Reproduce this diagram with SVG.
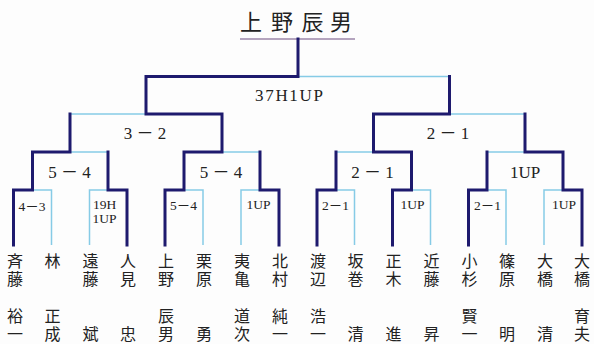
<svg xmlns="http://www.w3.org/2000/svg" width="594" height="344" viewBox="0 0 594 344">
<style>
.bg{fill:#fdfdfd}
.nv{fill:none;stroke:#1e1a6e;stroke-width:3;stroke-linejoin:miter;stroke-linecap:square}
.lt{fill:none;stroke:#86cbe6;stroke-width:1.5}
.ul{stroke:#9b86a8;stroke-width:1.5}
.jp{font-family:"Noto Sans CJK JP","Noto Sans CJK SC",sans-serif;fill:#222}
.ttl{font-size:22px;text-anchor:middle;dominant-baseline:central}
.nm{font-size:16px;writing-mode:vertical-rl;letter-spacing:1.5px;text-anchor:start}
.sc{font-family:"Liberation Serif","Noto Sans CJK JP",serif;fill:#222;text-anchor:middle;dominant-baseline:central}
.big{font-size:17px}
.sm{font-size:13.5px}
</style>
<rect class="bg" x="0" y="0" width="594" height="344"/>

<g id="title">
<text class="jp ttl" x="251 282 312.5 341" y="20">上野辰男</text>
<line class="ul" x1="240" y1="39" x2="355" y2="39"/>
</g>

<g id="connectors">
<path class="lt" d="M51.5,245V190H32.5 M89.5,245V190H108 M203,245V190H184 M241,245V190H260 M354.5,245V190H336 M430.5,245V190H411.5 M506,245V190H487 M544,245V190H563"/>
<path class="lt" d="M70,152H108 M222,152H260 M336,152H373.5 M487,152H525"/>
<path class="lt" d="M70,114H146 M449.5,114H525"/>
<path class="lt" d="M298,76.5H449.5"/>
<path class="nv" d="M13.5,245V190H32.5V152H70V114"/>
<path class="nv" d="M127,245V190H108V152"/>
<path class="nv" d="M165,245V190H184V152H222V114H146V76.5H298V39"/>
<path class="nv" d="M279,245V190H260V152"/>
<path class="nv" d="M317,245V190H336V152"/>
<path class="nv" d="M392.5,245V190H411.5V152H373.5V114H449.5V76.5"/>
<path class="nv" d="M468.5,245V190H487V152"/>
<path class="nv" d="M582,245V190H563V152H525V114"/>
</g>

<g id="scores">
<text class="sc big" x="289" y="95.5" textLength="68" lengthAdjust="spacing">37H1UP</text>
<text class="sc big" x="145" y="133.7">3 － 2</text>
<text class="sc big" x="448" y="133">2 － 1</text>
<text class="sc big" x="69.5" y="172.5">5 － 4</text>
<text class="sc big" x="221" y="172.5">5 － 4</text>
<text class="sc big" x="372.5" y="172.5">2 － 1</text>
<text class="sc big" x="525" y="172">1UP</text>
<text class="sc sm" x="32" y="206">4－3</text>
<text class="sc sm" x="104.5" y="204.5">19H</text>
<text class="sc sm" x="104.5" y="218.5">1UP</text>
<text class="sc sm" x="183.5" y="205.5">5－4</text>
<text class="sc sm" x="258.5" y="204.5">1UP</text>
<text class="sc sm" x="335.5" y="205">2－1</text>
<text class="sc sm" x="412.5" y="204.5">1UP</text>
<text class="sc sm" x="487.5" y="205">2－1</text>
<text class="sc sm" x="564" y="204.5">1UP</text>
</g>

<g id="player-1"><text class="jp nm" x="15" y="253">斉藤</text><text class="jp nm" x="15" y="308">裕一</text></g>
<g id="player-2"><text class="jp nm" x="52.5" y="253">林</text><text class="jp nm" x="52.5" y="308">正成</text></g>
<g id="player-3"><text class="jp nm" x="90.5" y="253">遠藤</text><text class="jp nm" x="90.5" y="325.5">斌</text></g>
<g id="player-4"><text class="jp nm" x="128" y="253">人見</text><text class="jp nm" x="128" y="325.5">忠</text></g>
<g id="player-5"><text class="jp nm" x="166" y="253">上野</text><text class="jp nm" x="166" y="308">辰男</text></g>
<g id="player-6"><text class="jp nm" x="204" y="253">栗原</text><text class="jp nm" x="204" y="325.5">勇</text></g>
<g id="player-7"><text class="jp nm" x="242" y="253">夷亀</text><text class="jp nm" x="242" y="308">道次</text></g>
<g id="player-8"><text class="jp nm" x="280" y="253">北村</text><text class="jp nm" x="280" y="308">純一</text></g>
<g id="player-9"><text class="jp nm" x="318" y="253">渡辺</text><text class="jp nm" x="318" y="308">浩一</text></g>
<g id="player-10"><text class="jp nm" x="355.5" y="253">坂巻</text><text class="jp nm" x="355.5" y="325.5">清</text></g>
<g id="player-11"><text class="jp nm" x="393.5" y="253">正木</text><text class="jp nm" x="393.5" y="325.5">進</text></g>
<g id="player-12"><text class="jp nm" x="431.5" y="253">近藤</text><text class="jp nm" x="431.5" y="325.5">昇</text></g>
<g id="player-13"><text class="jp nm" x="469.5" y="253">小杉</text><text class="jp nm" x="469.5" y="308">賢一</text></g>
<g id="player-14"><text class="jp nm" x="507" y="253">篠原</text><text class="jp nm" x="507" y="325.5">明</text></g>
<g id="player-15"><text class="jp nm" x="545" y="253">大橋</text><text class="jp nm" x="545" y="325.5">清</text></g>
<g id="player-16"><text class="jp nm" x="582" y="253">大橋</text><text class="jp nm" x="582" y="308">育夫</text></g>
</svg>
